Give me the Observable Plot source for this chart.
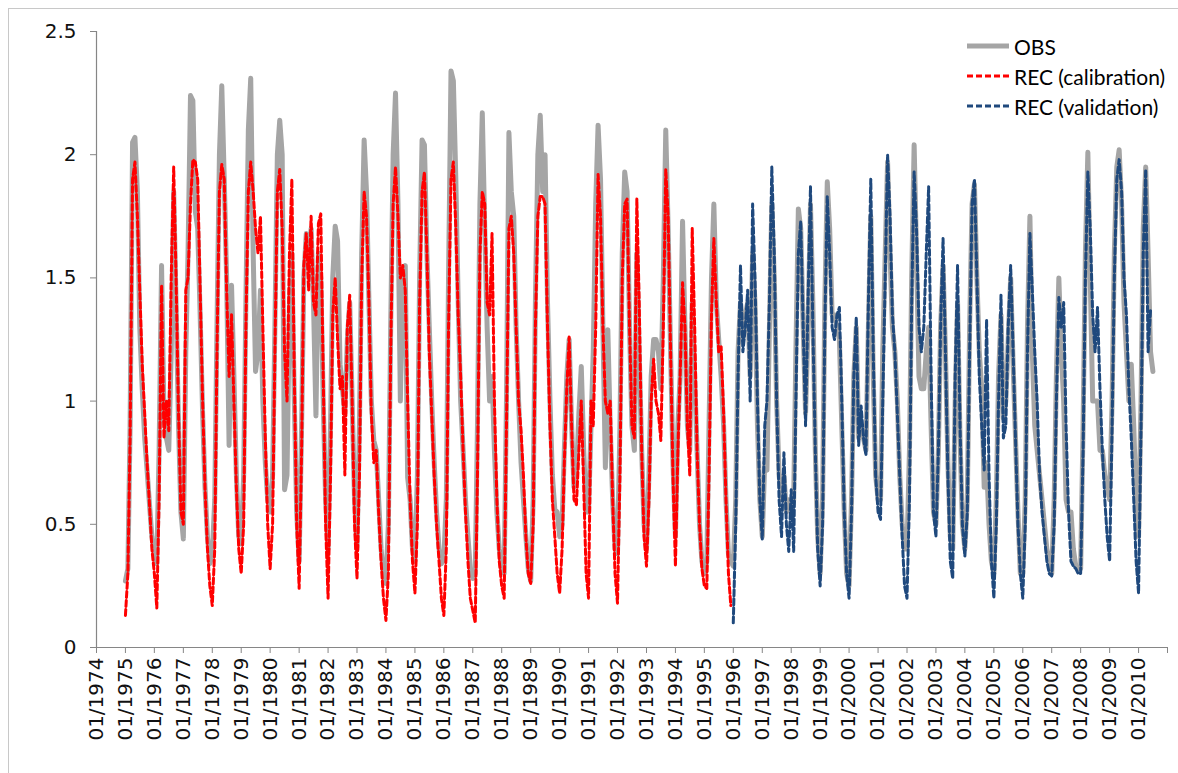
<!DOCTYPE html>
<html>
<head>
<meta charset="utf-8">
<script src="https://cdn.jsdelivr.net/npm/d3@7"></script>
<script src="https://cdn.jsdelivr.net/npm/@observablehq/plot@0.6"></script>
<style>
  html, body { margin: 0; padding: 0; background: #fff; overflow: hidden; }
  #chart { position: relative; width: 1178px; height: 773px; }
  #chart > svg { position: absolute; left: 0; top: 0; }
  #frame { position: absolute; left: 8px; top: 8px; width: 1400px; height: 1000px; border: 1px solid #C8C8C8; }
  #legend { position: absolute; left: 966px; top: 31px; font-family: Lato, "Open Sans", sans-serif; font-size: 21px; color: #000; }
  #legend .item { display: flex; align-items: center; height: 30px; }
  #legend .item svg { margin-right: 4px; }
</style>
</head>
<body>
<div id="chart"><div id="frame"></div><div id="legend"></div></div>
<script>
// Monthly series; each row is one calendar year (Jan..Dec).
const obsStartYear = 1975;
const obsValues = [
  0.27, 0.32, 0.90, 2.05, 2.07, 1.85, 1.30, 1.05, 0.85, 0.72, 0.58, 0.45, // 1975
  0.38, 0.34, 0.80, 1.55, 0.95, 0.85, 0.80, 1.20, 1.85, 1.40, 0.90, 0.55, // 1976
  0.44, 1.20, 1.60, 2.24, 2.22, 1.77, 1.70, 1.35, 0.95, 0.65, 0.45, 0.34, // 1977
  0.38, 0.60, 1.30, 2.00, 2.28, 1.90, 1.50, 0.82, 1.47, 1.10, 0.70, 0.45, // 1978
  0.42, 0.70, 1.40, 2.10, 2.31, 1.60, 1.12, 1.20, 1.45, 1.00, 0.75, 0.60, // 1979
  0.55, 0.70, 1.30, 2.00, 2.14, 2.00, 0.64, 0.70, 1.40, 1.60, 1.00, 0.55, // 1980
  0.35, 0.90, 1.50, 1.68, 1.55, 1.70, 1.40, 0.94, 1.60, 1.50, 1.00, 0.60, // 1981
  0.40, 0.90, 1.50, 1.71, 1.65, 1.15, 1.05, 0.95, 1.25, 1.40, 1.00, 0.60, // 1982
  0.40, 0.90, 1.60, 2.06, 1.85, 1.40, 1.00, 0.84, 0.80, 0.60, 0.40, 0.30, // 1983
  0.26, 0.50, 1.30, 2.00, 2.25, 1.80, 1.00, 1.50, 1.55, 0.69, 0.60, 0.40, // 1984
  0.35, 0.70, 1.50, 2.06, 2.04, 1.60, 1.30, 1.00, 0.75, 0.55, 0.40, 0.34, // 1985
  0.36, 0.60, 1.50, 2.34, 2.30, 1.90, 1.40, 1.00, 0.80, 0.60, 0.45, 0.32, // 1986
  0.28, 0.30, 0.90, 1.80, 2.17, 1.70, 1.30, 1.00, 1.10, 0.80, 0.55, 0.40, // 1987
  0.32, 0.30, 1.00, 2.09, 1.85, 1.75, 1.30, 1.00, 0.75, 0.60, 0.45, 0.32, // 1988
  0.27, 0.60, 1.40, 2.00, 2.16, 1.85, 2.00, 1.40, 1.00, 0.70, 0.56, 0.55, // 1989
  0.45, 0.50, 0.80, 1.10, 1.25, 0.90, 0.65, 0.70, 0.95, 1.14, 0.80, 0.55, // 1990
  0.55, 0.90, 1.20, 1.80, 2.12, 1.90, 1.30, 0.73, 1.29, 0.90, 0.60, 0.40, // 1991
  0.38, 0.90, 1.60, 1.93, 1.85, 1.30, 0.90, 0.80, 1.60, 1.20, 0.80, 0.50, // 1992
  0.40, 0.70, 1.10, 1.25, 1.25, 1.20, 1.05, 1.50, 2.10, 1.70, 1.20, 0.75, // 1993
  0.45, 0.90, 1.10, 1.73, 1.30, 0.90, 0.80, 1.40, 1.10, 0.80, 0.50, 0.35, // 1994
  0.30, 0.35, 0.90, 1.50, 1.80, 1.40, 1.25, 1.10, 0.90, 0.60, 0.38, 0.35, // 1995
  0.33, 0.60, 1.20, 1.40, 1.25, 1.35, 1.40, 1.10, 1.60, 1.40, 0.90, 0.60, // 1996
  0.45, 0.75, 0.72, 1.30, 1.80, 1.50, 1.00, 0.70, 0.60, 0.70, 0.55, 0.60, // 1997
  0.55, 0.60, 1.20, 1.78, 1.70, 1.30, 0.95, 1.30, 1.80, 1.40, 0.80, 0.45, // 1998
  0.30, 0.60, 1.40, 1.89, 1.70, 1.35, 1.35, 1.30, 1.25, 0.90, 0.55, 0.30, // 1999
  0.25, 0.60, 1.10, 1.30, 0.85, 0.90, 0.85, 0.80, 1.30, 1.75, 1.10, 0.70, // 2000
  0.60, 0.60, 1.20, 1.60, 1.97, 1.60, 1.30, 1.20, 1.00, 0.70, 0.50, 0.40, // 2001
  0.40, 0.80, 1.50, 2.04, 1.60, 1.10, 1.05, 1.05, 1.20, 1.30, 0.90, 0.55, // 2002
  0.50, 0.80, 1.30, 1.55, 1.20, 0.75, 0.45, 0.40, 1.00, 1.40, 0.85, 0.50, // 2003
  0.40, 0.60, 1.30, 1.80, 1.88, 1.50, 1.20, 1.05, 0.65, 0.75, 0.50, 0.35, // 2004
  0.30, 0.60, 1.10, 1.35, 0.93, 1.00, 1.25, 1.50, 1.15, 0.85, 0.55, 0.30, // 2005
  0.30, 0.60, 1.30, 1.75, 1.20, 0.90, 0.80, 0.70, 0.60, 0.50, 0.40, 0.35, // 2006
  0.30, 0.60, 1.10, 1.50, 1.20, 1.00, 0.60, 0.55, 0.55, 0.40, 0.33, 0.32, // 2007
  0.32, 0.90, 1.60, 2.01, 1.50, 1.00, 1.00, 1.00, 0.80, 0.80, 0.70, 0.65, // 2008
  0.60, 1.00, 1.60, 1.95, 2.02, 1.80, 1.40, 1.20, 1.00, 1.15, 0.90, 0.60, // 2009
  0.45, 1.00, 1.70, 1.95, 1.60, 1.20, 1.12                                // 2010
];

const calStartYear = 1975;
const calValues = [
  0.13, 0.30, 0.85, 1.90, 1.97, 1.75, 1.45, 1.15, 0.95, 0.75, 0.58, 0.40, // 1975
  0.30, 0.16, 0.60, 1.47, 0.85, 1.00, 0.88, 1.50, 1.95, 1.50, 0.95, 0.55, // 1976
  0.50, 1.45, 1.50, 1.80, 1.98, 1.97, 1.90, 1.45, 1.00, 0.65, 0.40, 0.25, // 1977
  0.17, 0.40, 1.20, 1.85, 1.96, 1.90, 1.45, 1.10, 1.35, 1.00, 0.65, 0.40, // 1978
  0.30, 0.50, 1.30, 1.85, 1.97, 1.85, 1.70, 1.60, 1.75, 1.30, 0.85, 0.50, // 1979
  0.32, 0.50, 1.20, 1.85, 1.94, 1.70, 1.20, 1.00, 1.60, 1.90, 1.10, 0.50, // 1980
  0.24, 0.80, 1.55, 1.68, 1.45, 1.75, 1.40, 1.35, 1.72, 1.76, 1.10, 0.50, // 1981
  0.20, 0.70, 1.35, 1.50, 1.25, 1.05, 1.10, 0.70, 1.30, 1.43, 1.00, 0.50, // 1982
  0.28, 0.70, 1.50, 1.85, 1.75, 1.40, 0.95, 0.75, 0.80, 0.55, 0.35, 0.20, // 1983
  0.11, 0.30, 1.20, 1.80, 1.95, 1.75, 1.50, 1.55, 1.45, 1.00, 0.60, 0.35, // 1984
  0.22, 0.50, 1.40, 1.85, 1.93, 1.60, 1.20, 0.95, 0.70, 0.50, 0.35, 0.20, // 1985
  0.13, 0.40, 1.30, 1.90, 1.97, 1.70, 1.35, 1.10, 0.80, 0.55, 0.35, 0.20, // 1986
  0.15, 0.10, 0.70, 1.60, 1.85, 1.80, 1.40, 1.35, 1.68, 1.00, 0.60, 0.35, // 1987
  0.25, 0.20, 0.90, 1.70, 1.75, 1.60, 1.30, 1.00, 0.88, 0.70, 0.45, 0.30, // 1988
  0.26, 0.50, 1.30, 1.75, 1.83, 1.83, 1.80, 1.30, 0.90, 0.60, 0.45, 0.30, // 1989
  0.22, 0.40, 0.75, 1.05, 1.26, 0.90, 0.60, 0.58, 0.80, 1.00, 0.65, 0.30, // 1990
  0.20, 1.00, 0.90, 1.30, 1.92, 1.75, 1.30, 1.00, 0.95, 1.00, 0.60, 0.30, // 1991
  0.18, 0.70, 1.50, 1.80, 1.82, 1.30, 0.90, 0.85, 1.82, 1.40, 0.80, 0.45, // 1992
  0.33, 0.60, 1.00, 1.17, 1.00, 0.95, 0.84, 1.30, 1.94, 1.75, 1.20, 0.70, // 1993
  0.33, 0.80, 1.10, 1.48, 1.30, 0.90, 0.70, 1.70, 1.30, 0.80, 0.50, 0.32, // 1994
  0.25, 0.24, 0.70, 1.35, 1.66, 1.40, 1.20, 1.22, 0.95, 0.60, 0.30, 0.17  // 1995
];

const valStartYear = 1996;
const valValues = [
  0.10, 0.50, 1.10, 1.55, 1.20, 1.30, 1.45, 1.00, 1.80, 1.50, 1.00, 0.60, // 1996
  0.44, 0.90, 1.00, 1.40, 1.95, 1.60, 1.00, 0.60, 0.45, 0.79, 0.50, 0.39, // 1997
  0.64, 0.39, 1.00, 1.60, 1.73, 1.30, 0.90, 1.40, 1.87, 1.30, 0.80, 0.40, // 1998
  0.25, 0.50, 1.30, 1.83, 1.60, 1.30, 1.25, 1.35, 1.38, 1.00, 0.55, 0.30, // 1999
  0.20, 0.55, 1.10, 1.34, 0.82, 0.98, 0.85, 0.78, 1.40, 1.90, 1.20, 0.70, // 2000
  0.55, 0.52, 1.00, 1.50, 2.00, 1.75, 1.35, 1.20, 0.95, 0.70, 0.45, 0.25, // 2001
  0.20, 0.60, 1.40, 1.93, 1.70, 1.30, 1.20, 1.30, 1.60, 1.87, 1.10, 0.55, // 2002
  0.45, 0.80, 1.30, 1.66, 1.20, 0.70, 0.35, 0.28, 1.10, 1.55, 0.90, 0.50, // 2003
  0.37, 0.55, 1.20, 1.80, 1.90, 1.50, 1.10, 0.90, 0.72, 1.33, 0.70, 0.35, // 2004
  0.20, 0.50, 1.00, 1.43, 0.85, 0.90, 1.30, 1.55, 1.20, 0.85, 0.50, 0.30, // 2005
  0.20, 0.50, 1.20, 1.68, 1.45, 1.20, 1.00, 0.70, 0.55, 0.45, 0.35, 0.30, // 2006
  0.29, 0.50, 1.00, 1.42, 1.30, 1.40, 0.90, 0.55, 0.35, 0.33, 0.32, 0.30, // 2007
  0.30, 0.80, 1.50, 1.93, 1.70, 1.35, 1.20, 1.38, 1.05, 0.80, 0.60, 0.45, // 2008
  0.35, 0.90, 1.50, 1.90, 1.98, 1.85, 1.50, 1.35, 1.05, 0.85, 0.60, 0.35, // 2009
  0.22, 0.90, 1.60, 1.94, 1.20, 1.37                                      // 2010
];

// Axis ticks
const yTicks = [0, 0.5, 1, 1.5, 2, 2.5];
const tickYears = d3.range(1974, 2012); // 01/1974 … 01/2011 (last tick unlabeled)

// Legend entries
const legendItems = [
  { label: "OBS", color: "#A5A5A5", width: 5, dash: null },
  { label: "REC (calibration)", color: "#FF0000", width: 3, dash: "6,3" },
  { label: "REC (validation)", color: "#1F497D", width: 3, dash: "6,3" }
];

const monthly = (values, startYear) =>
  values.map((v, i) => ({ date: new Date(Date.UTC(startYear + Math.floor(i / 12), i % 12, 1)), value: v }));

const obsRows = monthly(obsValues, obsStartYear);
const calRows = monthly(calValues, calStartYear);
const valRows = monthly(valValues, valStartYear);
const tickDates = tickYears.map(y => new Date(Date.UTC(y, 0, 1)));
const xDomain = [tickDates[0], tickDates[tickDates.length - 1]];
const axisColor = "#868686";

const chart = Plot.plot({
  width: 1178,
  height: 773,
  marginLeft: 96,
  marginRight: 11,
  marginTop: 31,
  marginBottom: 126,
  style: { fontFamily: "'DejaVu Sans', sans-serif", fontSize: "20px", background: "transparent", overflow: "visible" },
  x: { type: "utc", domain: xDomain },
  y: { domain: [0, 2.5] },
  marks: [
    Plot.axisY({ ticks: yTicks, tickSize: 6, tickPadding: 14, tickFormat: d => String(d), stroke: axisColor, fill: "#111", label: null }),
    Plot.axisX({
      ticks: tickDates, tickSize: 6, tickPadding: 4, tickRotate: -90,
      tickFormat: d => d.getUTCFullYear() === 2011 ? "" : `01/${d.getUTCFullYear()}`,
      stroke: axisColor, fill: "#111", label: null
    }),
    Plot.ruleX([xDomain[0]], { stroke: axisColor, strokeWidth: 1.2 }),
    Plot.ruleY([0], { stroke: axisColor, strokeWidth: 1.2 }),
    Plot.line(obsRows, { x: "date", y: "value", stroke: legendItems[0].color, strokeWidth: legendItems[0].width, strokeLinejoin: "round" }),
    Plot.line(calRows, { x: "date", y: "value", stroke: legendItems[1].color, strokeWidth: legendItems[1].width, strokeDasharray: legendItems[1].dash }),
    Plot.line(valRows, { x: "date", y: "value", stroke: legendItems[2].color, strokeWidth: legendItems[2].width, strokeDasharray: legendItems[2].dash })
  ]
});

const host = document.getElementById("chart");
host.insertBefore(chart, document.getElementById("legend"));

const legend = d3.select("#legend");
for (const item of legendItems) {
  const row = legend.append("div").attr("class", "item");
  const svg = row.append("svg").attr("width", 44).attr("height", 10);
  svg.append("line")
    .attr("x1", 1).attr("x2", 43).attr("y1", 5).attr("y2", 5)
    .attr("stroke", item.color)
    .attr("stroke-width", item.width)
    .attr("stroke-dasharray", item.dash);
  row.append("span").text(item.label);
}
</script>
</body>
</html>
